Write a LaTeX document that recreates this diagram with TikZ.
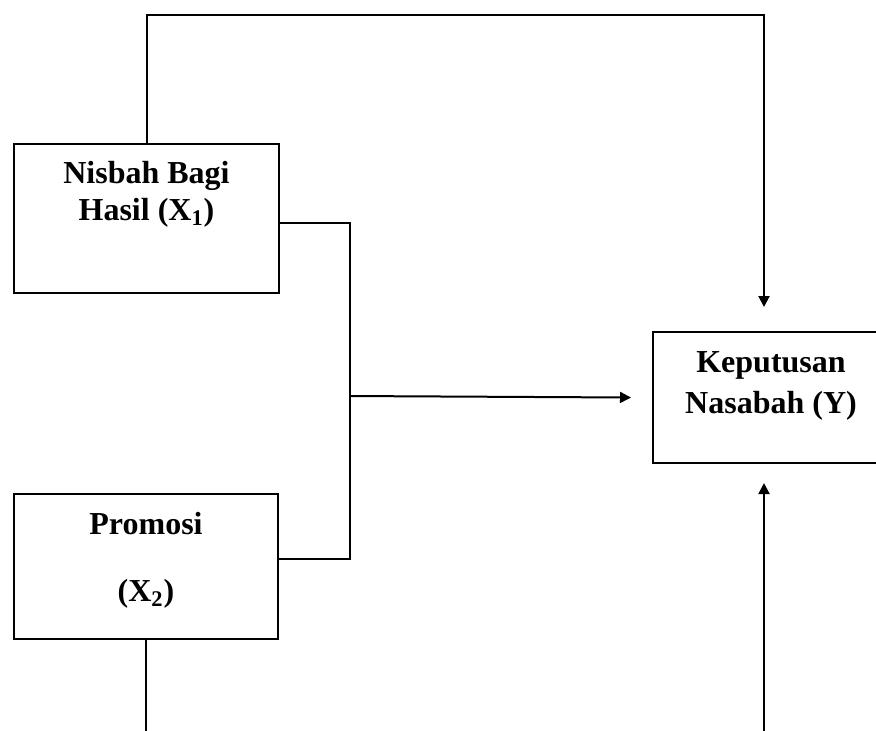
\documentclass[tikz,border=0pt]{standalone}
\usepackage{fontspec}
\setmainfont{Liberation Serif}
\usepackage{tikz}
\usetikzlibrary{positioning,arrows.meta,calc}

\begin{document}
\begin{tikzpicture}[x=0.5pt, y=-0.5pt]
        \tikzset{
          varbox/.style={rectangle, draw=black, line width=1pt, inner sep=0pt},
          vartext/.style={font=\fontsize{16}{18.5}\selectfont\bfseries, align=center, inner sep=0pt},
          link/.style={draw=black, line width=1pt},
          arrowlink/.style={link, -{Triangle[length=5.5pt,width=5.5pt]}}
        }
        \useasboundingbox (0,0) rectangle (876,730);
        \clip (0,0) rectangle (876,730);
        % Variable boxes
        \node[varbox, minimum width=132.5pt, minimum height=74.5pt] (nisbah) at (146.5,218.5) {};
        \node[varbox, minimum width=132pt, minimum height=72.5pt] (promosi) at (146,566.5) {};
        \node[varbox, minimum width=118pt, minimum height=65.5pt] (keputusan) at (771,397.5) {};
        % Labels
        \node[vartext, below=9pt of nisbah.north] (nisbahtxt) {Nisbah Bagi\\Hasil (X\textsubscript{1})};
        \node[vartext, below=9.5pt of promosi.north] (promositxt) {Promosi\\[15pt](X\textsubscript{2})};
        \node[vartext, below=10pt of keputusan.north] (keputusantxt) {Keputusan\\[2pt]Nasabah (Y)};
        % Connector ends
        \coordinate (topright) at (764,15);
        \coordinate (toptip) at (764,307);
        \coordinate (join) at (350,396);
        \coordinate (bottomleft) at (148,745);
        \coordinate (bottomright) at (764,745);
        \coordinate (bottomtip) at (764,483);
        % Connections
        \draw[arrowlink] (nisbah.north) |- (topright) -- (toptip);
        \draw[link] ([yshift=-2.25pt]nisbah.east) -| (join) |- ([yshift=3.75pt]promosi.east);
        \draw[arrowlink] (join) -- ([xshift=-10.5pt]keputusan.west);
        \draw[link] (promosi.south) -- (promosi.south |- bottomleft);
        \draw[arrowlink] (bottomright) -- (bottomtip);
      \end{tikzpicture}
\end{document}
